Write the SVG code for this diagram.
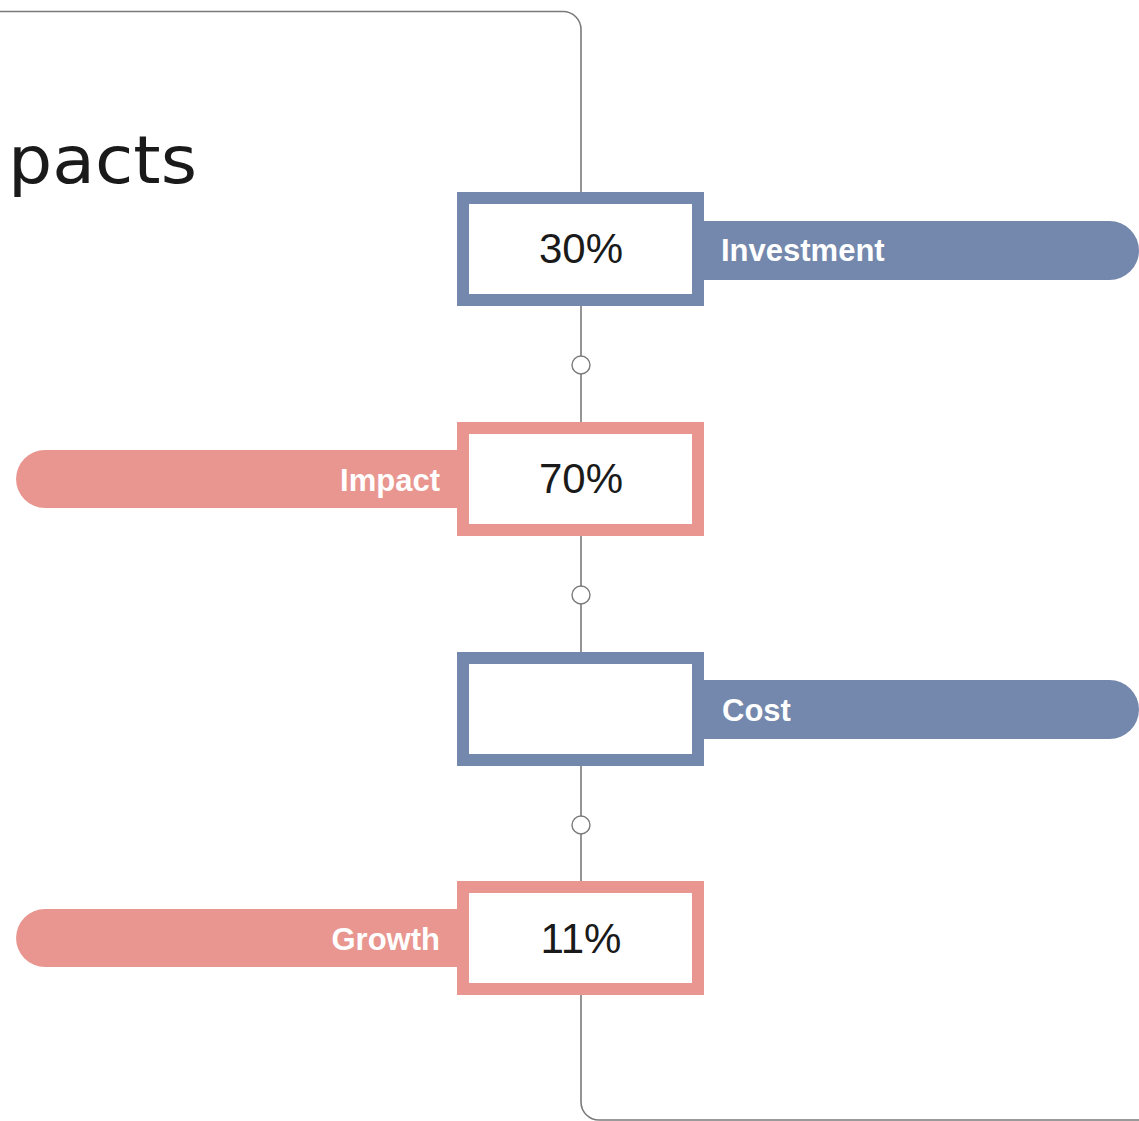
<svg xmlns="http://www.w3.org/2000/svg" width="1139" height="1121" viewBox="0 0 1139 1121">
<style>
.frame{fill:none;stroke:#7a7a7a;stroke-width:1.6}
.dot{fill:#fff;stroke:#7a7a7a;stroke-width:1.4}
.blue{fill:#7388ac}
.pink{fill:#e8968f}
.boxb{fill:#fff;stroke:#7388ac;stroke-width:12}
.boxp{fill:#fff;stroke:#e8968f;stroke-width:12}
.pct{font-family:"Liberation Sans",Arial,sans-serif;font-size:42px;fill:#1a1a1a;text-anchor:middle}
.lbl{font-family:"Liberation Sans",Arial,sans-serif;font-size:31px;font-weight:bold;fill:#fff}
.title{font-family:"DejaVu Sans",sans-serif;font-size:66px;fill:#1a1a1a}
</style>
<rect width="1139" height="1121" fill="#fff"/>
<text class="title" x="8" y="183" textLength="189" lengthAdjust="spacingAndGlyphs">pacts</text>
<g id="connectors">
<path class="frame" d="M0,11.5 H563 A18,18 0 0 1 581,29.5 V1102 A18,18 0 0 0 599,1120 H1139"/>
<circle class="dot" cx="581" cy="365" r="9"/>
<circle class="dot" cx="581" cy="595" r="9"/>
<circle class="dot" cx="581" cy="825" r="9"/>
</g>
<g id="node-investment">
<path class="blue" d="M690,221 H1109.5 A29.5,29.5 0 0 1 1109.5,280 H690 Z"/>
<rect class="boxb" x="463" y="198" width="235" height="102"/>
<text class="pct" x="581" y="263">30%</text>
<text class="lbl" x="721" y="261">Investment</text>
</g>
<g id="node-impact">
<path class="pink" d="M470,450 H45 A29,29 0 0 0 45,508 H470 Z"/>
<rect class="boxp" x="463" y="428" width="235" height="102"/>
<text class="pct" x="581" y="493">70%</text>
<text class="lbl" x="440" y="491" text-anchor="end">Impact</text>
</g>
<g id="node-cost">
<path class="blue" d="M690,680 H1109.5 A29.5,29.5 0 0 1 1109.5,739 H690 Z"/>
<rect class="boxb" x="463" y="658" width="235" height="102"/>
<text class="lbl" x="722" y="721">Cost</text>
</g>
<g id="node-growth">
<path class="pink" d="M470,909 H45 A29,29 0 0 0 45,967 H470 Z"/>
<rect class="boxp" x="463" y="887" width="235" height="102"/>
<text class="pct" x="581" y="953">11%</text>
<text class="lbl" x="440" y="950" text-anchor="end">Growth</text>
</g>
</svg>
